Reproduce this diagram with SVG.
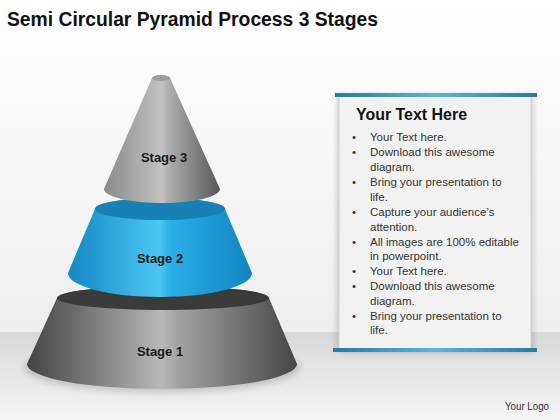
<svg xmlns="http://www.w3.org/2000/svg" width="560" height="420" viewBox="0 0 560 420">
<defs>
<linearGradient id="bgTop" x1="0" y1="0" x2="0" y2="1"><stop offset="0" stop-color="#ffffff"/><stop offset="1" stop-color="#eeeeee"/></linearGradient>
<linearGradient id="bgFloor" x1="0" y1="0" x2="0" y2="1"><stop offset="0" stop-color="#d8d8d8"/><stop offset="1" stop-color="#f4f4f4"/></linearGradient>
<linearGradient id="g3" x1="0" y1="0" x2="1" y2="0"><stop offset="0" stop-color="#8a8a8a"/><stop offset="0.5" stop-color="#c2c2c2"/><stop offset="0.56" stop-color="#adadad"/><stop offset="1" stop-color="#585858"/></linearGradient>
<linearGradient id="g2" x1="0" y1="0" x2="1" y2="0"><stop offset="0" stop-color="#1588c4"/><stop offset="0.5" stop-color="#4cc6f2"/><stop offset="0.56" stop-color="#2aaee6"/><stop offset="1" stop-color="#1284c0"/></linearGradient>
<linearGradient id="g1" x1="0" y1="0" x2="1" y2="0"><stop offset="0" stop-color="#434343"/><stop offset="0.5" stop-color="#b8b8b8"/><stop offset="0.56" stop-color="#a2a2a2"/><stop offset="1" stop-color="#454545"/></linearGradient>
<linearGradient id="bar" x1="0" y1="0" x2="1" y2="0"><stop offset="0" stop-color="#2a7aa2"/><stop offset="0.5" stop-color="#5ab6d8"/><stop offset="1" stop-color="#2a7aa2"/></linearGradient>
<filter id="blur" x="-20%" y="-50%" width="140%" height="200%"><feGaussianBlur stdDeviation="3"/></filter>
</defs>
<style>
.title{font-family:"Liberation Sans",Arial,sans-serif;font-weight:bold;font-size:20px;fill:#111}
.lbl{font-family:"Liberation Sans",Arial,sans-serif;font-weight:bold;font-size:13px;fill:#1a1a1a;text-anchor:middle}
.head{font-family:"Liberation Sans",Arial,sans-serif;font-weight:bold;font-size:16px;fill:#111}
.txt{font-family:"Liberation Sans",Arial,sans-serif;font-size:11.5px;fill:#333}
</style>
<rect x="0" y="0" width="560" height="332" fill="url(#bgTop)"/>
<rect x="0" y="332" width="560" height="88" fill="url(#bgFloor)"/>
<text class="title" x="7" y="26" textLength="371" lengthAdjust="spacingAndGlyphs">Semi Circular Pyramid Process 3 Stages</text>

<g id="stage1">
<ellipse cx="162" cy="368" rx="138" ry="25" fill="#000" opacity="0.15" filter="url(#blur)"/>
<path d="M57,298 L27,364 A135,25 0 0 0 297,364 L269,298 A106,12 0 0 0 57,298 Z" fill="url(#g1)"/>
<ellipse cx="163" cy="298" rx="106" ry="12" fill="#3b3b3b"/>
<text class="lbl" x="160" y="356">Stage 1</text>
</g>

<g id="stage2">
<path d="M95,209 L68,273 A92,24 0 0 0 252,273 L225,209 A65,11 0 0 0 95,209 Z" fill="url(#g2)"/>
<ellipse cx="160" cy="209" rx="65" ry="11" fill="#1780b4"/>
<text class="lbl" x="160" y="263">Stage 2</text>
</g>

<g id="stage3">
<path d="M152,78 L104,189 A58,14 0 0 0 220,189 L170,78 A9,3 0 0 0 152,78 Z" fill="url(#g3)"/>
<ellipse cx="161" cy="78" rx="9" ry="3" fill="#9c9c9c"/>
<text class="lbl" x="164" y="162">Stage 3</text>
</g>

<g id="textbox">
<rect x="337" y="95" width="196" height="257" fill="#000" opacity="0.18" filter="url(#blur)"/>
<rect x="339" y="95" width="192" height="255" fill="#f2f2f2" stroke="#cfcfcf" stroke-width="1"/>
<rect x="335" y="93" width="202" height="4" fill="url(#bar)"/>
<rect x="333" y="348" width="204" height="4" fill="url(#bar)"/>
<text class="head" x="356" y="120" textLength="111" lengthAdjust="spacingAndGlyphs">Your Text Here</text>
<g class="txt">
<text x="352" y="141">•</text><text x="370" y="141">Your Text here.</text>
<text x="352" y="156">•</text><text x="370" y="156">Download this awesome</text>
<text x="370" y="171">diagram.</text>
<text x="352" y="186">•</text><text x="370" y="186">Bring your presentation to</text>
<text x="370" y="201">life.</text>
<text x="352" y="216">•</text><text x="370" y="216">Capture your audience’s</text>
<text x="370" y="231">attention.</text>
<text x="352" y="246">•</text><text x="370" y="246">All images are 100% editable</text>
<text x="370" y="260">in powerpoint.</text>
<text x="352" y="275">•</text><text x="370" y="275">Your Text here.</text>
<text x="352" y="290">•</text><text x="370" y="290">Download this awesome</text>
<text x="370" y="305">diagram.</text>
<text x="352" y="320">•</text><text x="370" y="320">Bring your presentation to</text>
<text x="370" y="334">life.</text>
</g>
</g>
<text class="txt" x="505" y="410" textLength="44" lengthAdjust="spacingAndGlyphs">Your Logo</text>
</svg>
